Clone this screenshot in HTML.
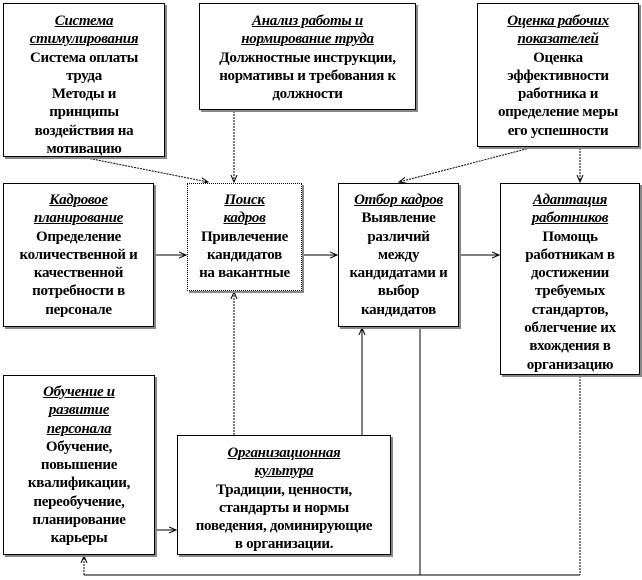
<!DOCTYPE html>
<html><head><meta charset="utf-8"><style>
body{margin:0;width:642px;height:580px;background:#fff;position:relative;overflow:hidden;font-family:"Liberation Serif",serif;}
.b{position:absolute;box-sizing:border-box;border:1px solid #000;box-shadow:2px 2px 0 #888;background:#fff;text-align:center;font-weight:bold;font-size:15px;line-height:18.3px;padding-top:7px;letter-spacing:-0.3px;white-space:nowrap;}
.b i{text-decoration:underline;}
svg{position:absolute;left:0;top:0;}
</style></head><body>
<svg width="642" height="580">
<defs><marker id="a" markerWidth="8" markerHeight="8" refX="7" refY="4" orient="auto"><path d="M0,1 L7,4 L0,7" fill="none" stroke="#000" stroke-width="1"/></marker></defs>
<g stroke="#000" fill="none" stroke-width="1">
<line x1="87" y1="158" x2="208" y2="182" stroke-dasharray="2,1" marker-end="url(#a)"/>
<line x1="234" y1="111" x2="234" y2="182" stroke-dasharray="2,1" marker-end="url(#a)"/>
<line x1="530" y1="148" x2="399" y2="182" stroke-dasharray="2,1" marker-end="url(#a)"/>
<line x1="580" y1="148" x2="580" y2="182" stroke-dasharray="2,1" marker-end="url(#a)"/>
<line x1="154" y1="255" x2="186" y2="255" marker-end="url(#a)"/>
<line x1="302" y1="255" x2="337" y2="255" marker-end="url(#a)"/>
<line x1="459" y1="255" x2="499" y2="255" marker-end="url(#a)"/>
<line x1="234" y1="435" x2="234" y2="292" stroke-dasharray="2,1" marker-end="url(#a)"/>
<line x1="362" y1="435" x2="362" y2="328" marker-end="url(#a)"/>
<line x1="155" y1="530" x2="176" y2="530" marker-end="url(#a)"/>
<line x1="420" y1="328" x2="420" y2="575"/>
<line x1="580" y1="376" x2="580" y2="575" stroke-dasharray="2,1"/>
<line x1="84" y1="575" x2="580" y2="575"/>
<line x1="84" y1="575" x2="84" y2="556" stroke-dasharray="2,1" marker-end="url(#a)"/>
</g></svg>
<div class="b" style="left:3px;top:3px;width:162px;height:154px;padding-top:8px"><i>Система<br>стимулирования</i><br>Система оплаты<br>труда<br>Методы и<br>принципы<br>воздействия на<br>мотивацию</div>
<div class="b" style="left:199px;top:3px;width:217px;height:107px;padding-top:8px"><i>Анализ работы и<br>нормирование труда</i><br>Должностные инструкции,<br>нормативы и требования к<br>должности</div>
<div class="b" style="left:477px;top:3px;width:162px;height:144px;padding-top:8px"><i>Оценка рабочих<br>показателей</i><br>Оценка<br>эффективности<br>работника и<br>определение меры<br>его успешности</div>
<div class="b" style="left:3px;top:183px;width:151px;height:144px"><i>Кадровое<br>планирование</i><br>Определение<br>количественной и<br>качественной<br>потребности в<br>персонале</div>
<div class="b" style="left:187px;top:183px;width:115px;height:108px;border-style:dotted"><i>Поиск<br>кадров</i><br>Привлечение<br>кандидатов<br>на вакантные</div>
<div class="b" style="left:338px;top:183px;width:121px;height:144px"><i>Отбор кадров</i><br>Выявление<br>различий<br>между<br>кандидатами и<br>выбор<br>кандидатов</div>
<div class="b" style="left:500px;top:183px;width:140px;height:192px"><i>Адаптация<br>работников</i><br>Помощь<br>работникам в<br>достижении<br>требуемых<br>стандартов,<br>облегчение их<br>вхождения в<br>организацию</div>
<div class="b" style="left:3px;top:375px;width:152px;height:180px"><i>Обучение и<br>развитие<br>персонала</i><br>Обучение,<br>повышение<br>квалификации,<br>переобучение,<br>планирование<br>карьеры</div>
<div class="b" style="left:177px;top:435px;width:214px;height:120px;padding-top:8px"><i>Организационная<br>культура</i><br>Традиции, ценности,<br>стандарты и нормы<br>поведения, доминирующие<br>в организации.</div>
</body></html>
